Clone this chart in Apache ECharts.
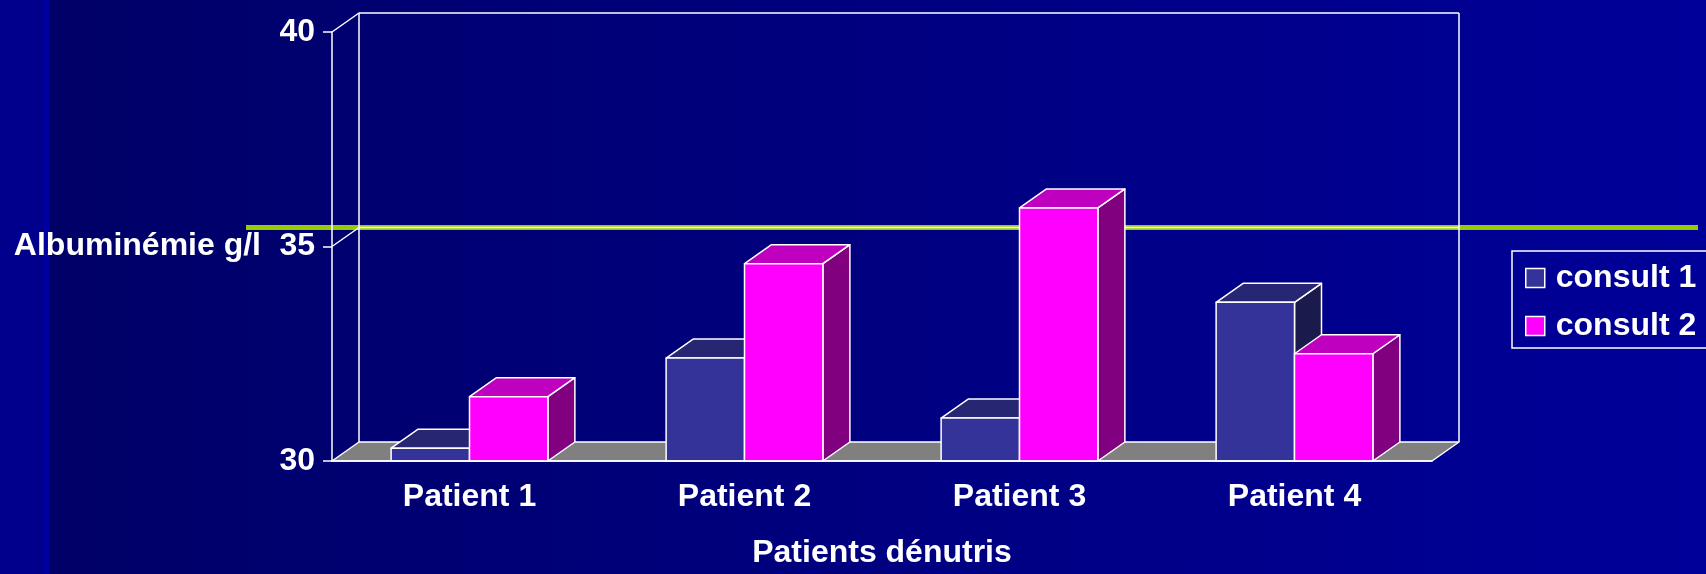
<!DOCTYPE html>
<html>
<head>
<meta charset="utf-8">
<title>Albuminémie</title>
<script src="https://cdn.jsdelivr.net/npm/echarts@6/dist/echarts.min.js"></script>
<style>
    html, body { margin: 0; padding: 0; }
    #chart { width: 1706px; height: 574px; }
</style>
</head>
<body>
<div id="chart"></div>
<script>
    // données
    const categories = ['Patient 1', 'Patient 2', 'Patient 3', 'Patient 4'];
    const consult1 = [30.3, 32.4, 31.0, 33.7];
    const consult2 = [31.5, 34.6, 35.9, 32.5];
    const yTicks = [30, 35, 40];
    const seuil = 35;

    // perspective du graphique 3D
    const DX = 27, DY = -19;
    const BAR_FRAC = 0.285;
    const font = { color: '#fff', fontSize: 32, fontWeight: 'bold', fontFamily: 'Liberation Sans, Arial, sans-serif' };
    const edge = { stroke: '#fff', lineWidth: 1.5, lineJoin: 'round' };

    function barRender(side, colors) {
        return function (params, api) {
            const ci = api.value(0);
            const top = api.coord([ci, api.value(1)]);
            const base = api.coord([ci, yTicks[0]]);
            const w = api.size([1, 0])[0] * BAR_FRAC;
            const x0 = top[0] - (side === 0 ? w : 0);
            const x1 = x0 + w;
            const yt = top[1], yb = base[1];
            return {
                type: 'group',
                children: [
                    { type: 'polygon', shape: { points: [[x1, yb], [x1 + DX, yb + DY], [x1 + DX, yt + DY], [x1, yt]] }, style: Object.assign({ fill: colors.side }, edge) },
                    { type: 'polygon', shape: { points: [[x0, yt], [x0 + DX, yt + DY], [x1 + DX, yt + DY], [x1, yt]] }, style: Object.assign({ fill: colors.top }, edge) },
                    { type: 'rect', shape: { x: x0, y: yt, width: w, height: yb - yt }, style: Object.assign({ fill: colors.front }, edge) }
                ]
            };
        };
    }

    function frameRender(params, api) {
        const cs = params.coordSys;
        const x0 = cs.x, x1 = cs.x + cs.width;
        const ys = yTicks.map(v => api.coord([0, v])[1]);
        const yb = ys[0], ytop = ys[ys.length - 1];
        const children = [
            { type: 'polygon', shape: { points: [[x0, yb], [x0 + DX, yb + DY], [x1 + DX, yb + DY], [x1, yb]] }, style: Object.assign({ fill: '#808080' }, edge) },
            { type: 'line', shape: { x1: x0 + DX, y1: ytop + DY, x2: x0 + DX, y2: yb + DY }, style: edge },
            { type: 'line', shape: { x1: x1 + DX, y1: ytop + DY, x2: x1 + DX, y2: yb + DY }, style: edge }
        ];
        ys.slice(1).forEach(y => {
            children.push({ type: 'polyline', shape: { points: [[x0, y], [x0 + DX, y + DY], [x1 + DX, y + DY]] }, style: Object.assign({ fill: null }, edge) });
        });
        return { type: 'group', children: children };
    }

    function seuilRender(params, api) {
        const y = api.coord([0, api.value(1)])[1] + DY;
        return { type: 'rect', shape: { x: 246, y: y - 2.5, width: 1452, height: 5 }, style: { fill: '#99cc00' } };
    }

    const chart = echarts.init(document.getElementById('chart'));
    chart.setOption({
        animation: false,
        graphic: [
            { type: 'rect', z: -10, shape: { x: 0, y: 0, width: 1706, height: 574 },
              style: { fill: new echarts.graphic.LinearGradient(0, 0, 1, 0, [{ offset: 0, color: '#000066' }, { offset: 1, color: '#000099' }]) } },
            { type: 'rect', z: -9, shape: { x: 0, y: 0, width: 44, height: 574 }, style: { fill: '#00008c' } },
            { type: 'rect', z: -9, shape: { x: 44, y: 0, width: 5, height: 574 }, style: { fill: '#0000a0' } }
        ],
        grid: { left: 332, top: 32, width: 1100, height: 434 },
        legend: {
            data: ['consult 1', 'consult 2'],
            orient: 'vertical',
            left: 1512,
            top: 251,
            padding: [11, 24, 6, 13],
            itemGap: 16,
            itemWidth: 19,
            itemHeight: 19,
            icon: 'rect',
            borderColor: '#fff',
            borderWidth: 1.5,
            borderRadius: 0,
            itemStyle: { borderColor: '#fff', borderWidth: 1.5 },
            textStyle: Object.assign({ padding: [0, 0, 0, 6] }, font)
        },
        xAxis: {
            type: 'category',
            data: categories,
            z: 5,
            axisLine: { lineStyle: { color: '#fff', width: 1.5 } },
            axisTick: { length: 9, lineStyle: { color: '#fff', width: 1.5 } },
            axisLabel: Object.assign({ margin: 20 }, font),
            name: 'Patients dénutris',
            nameLocation: 'middle',
            nameGap: 76,
            nameTextStyle: font
        },
        yAxis: {
            type: 'value',
            min: 30,
            max: 40,
            interval: 5,
            z: 5,
            axisLine: { show: true, lineStyle: { color: '#fff', width: 1.5 } },
            axisTick: { show: true, length: 9, lineStyle: { color: '#fff', width: 1.5 } },
            axisLabel: Object.assign({ margin: 17 }, font),
            splitLine: { show: false },
            name: 'Albuminémie g/l',
            nameLocation: 'middle',
            nameRotate: 0,
            nameGap: 71,
            nameTextStyle: font
        },
        series: [
            { name: 'seuil', type: 'custom', z: 1, clip: false, silent: true, renderItem: seuilRender, data: [[0, seuil]] },
            { name: 'cadre', type: 'custom', z: 2, clip: false, silent: true, renderItem: frameRender, data: [[0, yTicks[0]]] },
            {
                name: 'consult 1', type: 'custom', z: 4, clip: false,
                itemStyle: { color: '#333399' },
                renderItem: barRender(0, { front: '#333399', top: '#262673', side: '#1a1a4d' }),
                encode: { x: 0, y: 1 },
                data: consult1.map((v, i) => [i, v])
            },
            {
                name: 'consult 2', type: 'custom', z: 4, clip: false,
                itemStyle: { color: '#ff00ff' },
                renderItem: barRender(1, { front: '#ff00ff', top: '#bf00bf', side: '#800080' }),
                encode: { x: 0, y: 1 },
                data: consult2.map((v, i) => [i, v])
            }
        ]
    });
</script>
</body>
</html>
